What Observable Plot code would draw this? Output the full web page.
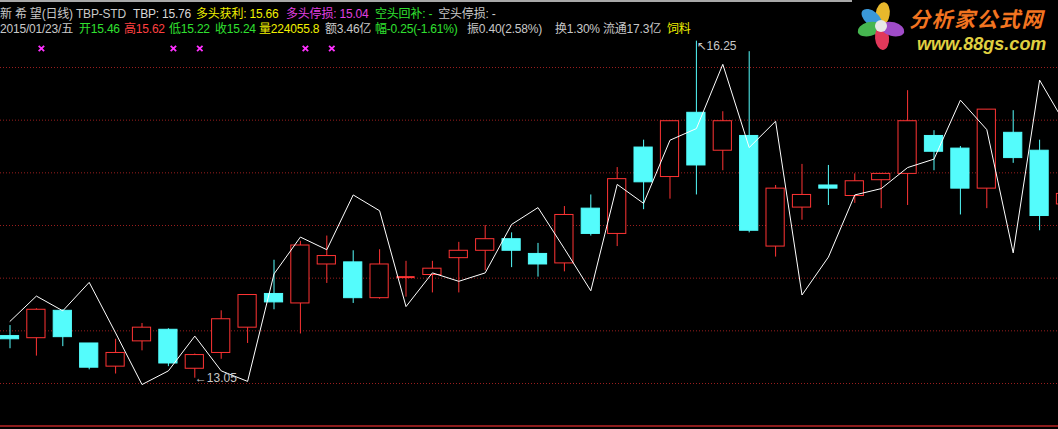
<!DOCTYPE html>
<html><head><meta charset="utf-8">
<script src="https://cdn.jsdelivr.net/npm/d3@7"></script>
<script src="https://cdn.jsdelivr.net/npm/@observablehq/plot@0.6"></script>
<style>
html,body{margin:0;padding:0;background:#000;overflow:hidden;}
#wrap{position:relative;width:1058px;height:429px;background:#000;overflow:hidden;}
#chart{position:absolute;left:0;top:0;}
.hd{position:absolute;font-size:12px;font-family:"Liberation Sans","Noto Sans CJK SC",sans-serif;line-height:14px;white-space:nowrap;letter-spacing:-0.2px;}
#topline{position:absolute;left:0;top:0;width:852px;height:2px;background:#a8a8a8;}
#bottomline{position:absolute;left:0;top:425px;width:1058px;height:2px;background:#8c1c1c;}
#logo{position:absolute;left:852px;top:0;width:206px;height:56px;background:#000;}
.petal{position:absolute;width:14px;height:24px;border-radius:50%;}
</style></head><body>
<div id="wrap"><div id="chart"></div><div id="topline"></div><div id="bottomline"></div><div id="header"></div><div id="logo"></div></div>
<script>
// ---- data ----
const openP  = [13.45,13.43,13.69,13.38,13.16,13.40,13.51,13.14,13.29,13.53,13.85,13.76,14.13,14.15,13.81,14.01,14.03,14.19,14.26,14.37,14.23,14.14,14.66,14.42,15.24,14.96,15.57,15.21,15.35,14.30,14.67,14.88,14.78,14.93,14.99,15.35,15.23,14.85,15.38,15.21,14.70];
const closeP = [13.42,13.70,13.44,13.15,13.29,13.53,13.19,13.27,13.61,13.84,13.77,14.31,14.21,13.81,14.13,14.01,14.09,14.26,14.37,14.26,14.13,14.60,14.42,14.94,14.91,15.49,15.07,15.49,14.45,14.85,14.79,14.85,14.92,14.99,15.49,15.20,14.85,15.60,15.14,14.59,14.80];
const highP  = [13.55,13.71,13.70,13.38,13.42,13.57,13.52,13.28,13.69,13.84,14.17,14.35,14.40,14.26,14.27,14.16,14.16,14.34,14.50,14.43,14.33,14.68,14.79,15.05,15.31,15.49,16.25,15.58,16.15,14.88,15.08,15.07,14.99,14.99,15.78,15.40,15.25,15.60,15.59,15.31,14.85];
const lowP   = [13.33,13.26,13.35,13.13,13.09,13.31,13.16,13.05,13.23,13.38,13.70,13.47,13.95,13.76,13.80,13.82,13.86,13.86,14.07,14.10,14.01,14.06,14.40,14.30,14.65,14.75,14.79,15.02,14.43,14.20,14.55,14.69,14.71,14.66,14.69,15.02,14.60,14.66,15.09,14.45,14.65];
const tbpStd = [13.59,13.83,13.69,13.96,13.48,12.99,13.12,13.45,13.12,13.02,14.04,14.39,14.27,14.79,14.64,13.73,14.05,13.97,14.05,14.51,14.67,14.28,13.88,14.89,14.71,15.31,15.42,16.03,15.24,15.49,13.84,14.20,14.79,14.85,15.05,15.13,15.69,15.41,14.24,15.88,15.45];
const gridLevels = [13, 13.5, 14, 14.5, 15, 15.5, 16];
const signalIdx = [1, 6, 7, 11, 12];          // magenta × markers
const lowMarkIdx = 7, lowMarkVal = 13.05;      // lowest low
const highMarkIdx = 26, highMarkVal = 16.25;   // highest high

// header segments: text, colour, left (null = follow previous segment)
const header1 = [
  ["新 希 望(日线) TBP-STD", "#c8c8c8", 0],
  ["TBP: 15.76", "#d8d8d8", 133],
  ["多头获利: 15.66", "#f0f000", 196],
  ["多头停损: 15.04", "#e040e0", 286],
  ["空头回补: -", "#30e030", 375],
  ["空头停损: -", "#c8c8c8", null]
];
const header2 = [
  ["2015/01/23/五", "#c8c8c8", 0],
  ["开15.46", "#30e030", 79],
  ["高15.62", "#ff4040", 124],
  ["低15.22", "#30e030", 169],
  ["收15.24", "#30e030", 215],
  ["量224055.8", "#f0f000", 259],
  ["额3.46亿", "#c8c8c8", 325],
  ["幅-0.25(-1.61%)", "#30e030", 375],
  ["振0.40(2.58%)", "#c8c8c8", 467],
  ["换1.30%", "#c8c8c8", 555],
  ["流通17.3亿", "#c8c8c8", 603],
  ["饲料", "#f0f000", 667]
];

// ---- build table ----
const RED = "#ff3434", CYAN = "#54fcfc";
const candles = openP.map((o, i) => ({
  i, open: o, close: closeP[i], high: highP[i], low: lowP[i], tbp: tbpStd[i],
  up: closeP[i] >= o
}));
const bodies = candles.filter(d => Math.abs(d.close - d.open) > 0.004);
const dojis = candles.filter(d => Math.abs(d.close - d.open) <= 0.004);
const HW = 0.345;
const labelFont = "Liberation Sans, DejaVu Sans, sans-serif";

const chart = Plot.plot({
  width: 1058, height: 429,
  marginTop: 0, marginRight: 0, marginBottom: 0, marginLeft: 0,
  style: {background: "#000", overflow: "hidden"},
  x: {domain: [-0.36, 39.716], range: [0, 1058], axis: null},
  y: {domain: [13, 16], range: [383, 67], axis: null},
  marks: [
    Plot.ruleY(gridLevels, {stroke: "#9a1e1e", strokeDasharray: "1,2", strokeWidth: 1}),
    Plot.ruleX(candles, {x: "i", y1: "low", y2: "high", stroke: d => d.up ? RED : CYAN, strokeWidth: 1, clip: true}),
    Plot.rect(bodies, {
      x1: d => d.i - HW, x2: d => d.i + HW, y1: "open", y2: "close",
      fill: d => d.up ? "#000" : CYAN, stroke: d => d.up ? RED : CYAN, strokeWidth: 1, clip: true
    }),
    Plot.ruleY(dojis, {x1: d => d.i - HW, x2: d => d.i + HW, y: "open", stroke: RED, strokeWidth: 2, clip: true}),
    Plot.line(candles, {x: "i", y: "tbp", stroke: "#ffffff", strokeWidth: 1, clip: true}),
    Plot.dot(signalIdx, {x: d => d, frameAnchor: "top", dy: 48, dx: 5, symbol: "times", r: 2.6, stroke: "#ff30ff", strokeWidth: 1.8}),
    Plot.text([lowMarkVal], {
      x: () => lowMarkIdx, y: d => d, text: d => "←" + d.toFixed(2), textAnchor: "start",
      lineAnchor: "middle", fill: "#c8c8c8", fontSize: 12, fontFamily: labelFont
    }),
    Plot.text([highMarkVal], {
      x: () => highMarkIdx, y: d => d, text: d => "↖" + d.toFixed(2), textAnchor: "start",
      lineAnchor: "top", fill: "#c8c8c8", fontSize: 12, fontFamily: labelFont
    })
  ]
});
document.getElementById("chart").appendChild(chart);

// ---- header text ----
const hdr = document.getElementById("header");
function addLine(items, top) {
  let prevRight = 0;
  for (const [t, c, x] of items) {
    const s = document.createElement("div");
    s.className = "hd"; s.textContent = t; s.style.color = c;
    s.style.top = top + "px";
    hdr.appendChild(s);
    const left = x == null ? prevRight + 6 : x;
    s.style.left = left + "px";
    prevRight = left + s.getBoundingClientRect().width;
  }
}
addLine(header1, 7);
addLine(header2, 22);

// ---- watermark logo ----
const logo = document.getElementById("logo");
const cx = 29, cy = 26;
const petals = [[8, "#e8b82c"], [-50, "#3a98d8"], [-105, "#46b650"], [175, "#e0385a"], [105, "#a04cc8"]];
for (const [a, c] of petals) {
  const p = document.createElement("div");
  p.className = "petal"; p.style.background = c;
  p.style.left = (cx - 7) + "px"; p.style.top = (cy - 12) + "px";
  p.style.transform = `rotate(${a}deg) translateY(-12px)`;
  logo.appendChild(p);
}
const ctr = document.createElement("div");
Object.assign(ctr.style, {position: "absolute", left: (cx - 6) + "px", top: (cy - 6) + "px", width: "12px", height: "12px", borderRadius: "50%", background: "#e8e8e8"});
logo.appendChild(ctr);
const t1 = document.createElement("div");
t1.textContent = "分析家公式网";
Object.assign(t1.style, {position: "absolute", left: "57px", top: "8px", fontFamily: "'Noto Sans CJK SC', sans-serif", fontWeight: "bold", fontStyle: "italic", fontSize: "21px", lineHeight: "21px", letterSpacing: "1.5px", color: "#f27420", whiteSpace: "nowrap"});
logo.appendChild(t1);
const t2 = document.createElement("div");
t2.textContent = "www.88gs.com";
Object.assign(t2.style, {position: "absolute", left: "65px", top: "35px", fontFamily: "'Liberation Sans', sans-serif", fontWeight: "bold", fontStyle: "italic", fontSize: "18px", lineHeight: "18px", color: "#e0d040", whiteSpace: "nowrap"});
logo.appendChild(t2);
</script></body></html>
